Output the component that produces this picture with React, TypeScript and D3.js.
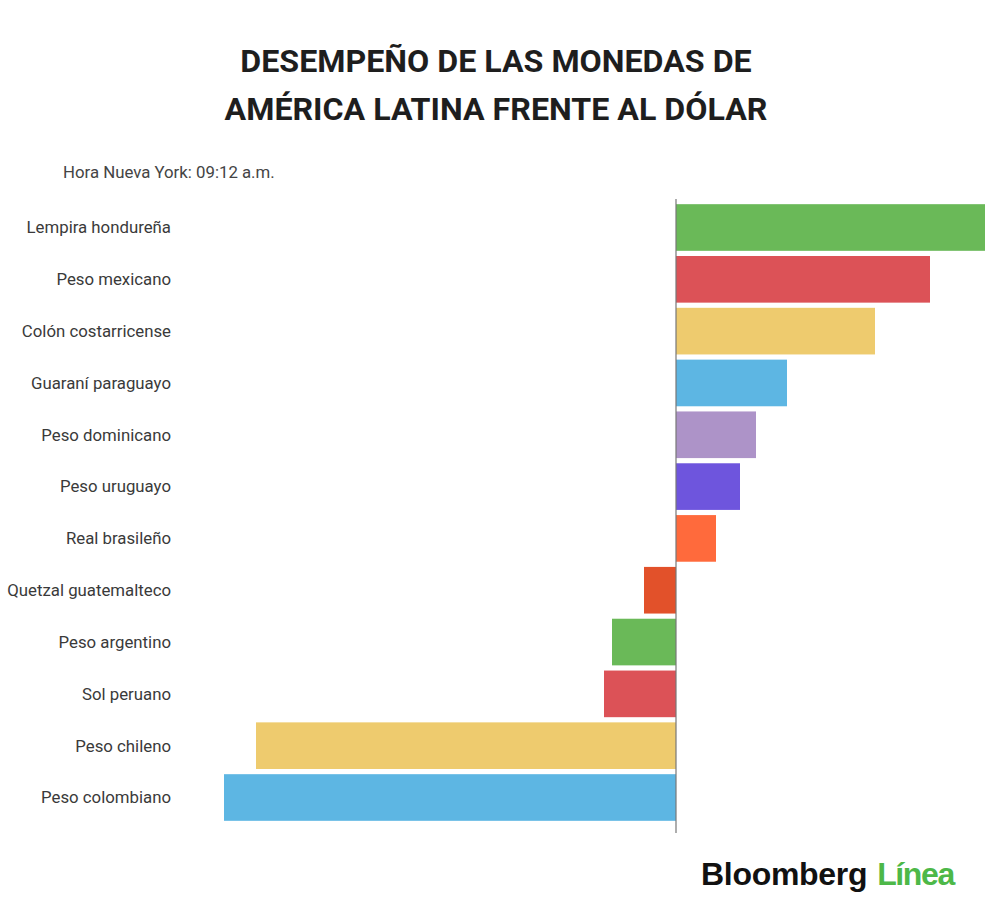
import { useEffect, useRef } from 'react'
import * as d3 from 'd3'

// Currency performance vs USD (% change)
const CURRENCIES = [
  'Lempira hondureña',
  'Peso mexicano',
  'Colón costarricense',
  'Guaraní paraguayo',
  'Peso dominicano',
  'Peso uruguayo',
  'Real brasileño',
  'Quetzal guatemalteco',
  'Peso argentino',
  'Sol peruano',
  'Peso chileno',
  'Peso colombiano',
]
const CHANGES = [0.618, 0.508, 0.398, 0.222, 0.16, 0.128, 0.08, -0.064, -0.128, -0.144, -0.84, -0.904]
const COLORS = [
  '#6AB958', '#DC5257', '#EECB6E', '#5DB6E3', '#AD93C8', '#6E55DD',
  '#FF6A3C', '#E2512A', '#6AB958', '#DC5257', '#EECB6E', '#5DB6E3',
]
const TITLE_LINES = ['DESEMPEÑO DE LAS MONEDAS DE', 'AMÉRICA LATINA FRENTE AL DÓLAR']
const SUBTITLE = 'Hora Nueva York: 09:12 a.m.'

const W = 1000
const H = 917
const FONT = 'Roboto, "Noto Sans", sans-serif'

export default function App() {
  const svgRef = useRef<SVGSVGElement>(null)

  useEffect(() => {
    const svgEl = svgRef.current
    if (!svgEl) return
    const svg = d3.select(svgEl)
    svg.selectAll('*').remove()

    svg.append('rect').attr('width', W).attr('height', H).attr('fill', '#fff')

    // Title
    svg.selectAll('.title')
      .data(TITLE_LINES)
      .join('text')
      .attr('class', 'title')
      .attr('x', 496)
      .attr('y', (_, i) => 72 + i * 48)
      .attr('text-anchor', 'middle')
      .attr('font-family', FONT).attr('font-weight', 700).attr('font-size', 32.2)
      .attr('fill', '#1e1e1e')
      .text(d => d)

    svg.append('text')
      .attr('x', 63).attr('y', 178)
      .attr('font-family', FONT).attr('font-size', 16.8).attr('fill', '#444')
      .text(SUBTITLE)

    const x = d3.scaleLinear()
      .domain([d3.min(CHANGES) as number, d3.max(CHANGES) as number])
      .range([224, 985])

    const y = d3.scaleBand<string>()
      .domain(CURRENCIES)
      .range([199, 826])
      .paddingInner(0.1)
      .paddingOuter(0.1)

    // Bars
    svg.selectAll('.bar')
      .data(CURRENCIES)
      .join('rect')
      .attr('class', 'bar')
      .attr('x', (_, i) => Math.min(x(0), x(CHANGES[i])))
      .attr('y', d => y(d) as number)
      .attr('width', (_, i) => Math.abs(x(CHANGES[i]) - x(0)))
      .attr('height', y.bandwidth())
      .attr('fill', (_, i) => COLORS[i])

    // Category labels
    svg.selectAll('.label')
      .data(CURRENCIES)
      .join('text')
      .attr('class', 'label')
      .attr('x', 171)
      .attr('y', d => (y(d) as number) + y.bandwidth() / 2)
      .attr('dy', '0.35em')
      .attr('text-anchor', 'end')
      .attr('font-family', FONT).attr('font-size', 16.8).attr('fill', '#3a3a3a')
      .text(d => d)

    // Zero line
    const [r0, r1] = y.range()
    svg.append('line')
      .attr('x1', x(0)).attr('x2', x(0))
      .attr('y1', r0).attr('y2', r1 + 7)
      .attr('stroke', '#777').attr('stroke-width', 1.2)

    // Logo
    const logo = svg.append('text')
      .attr('x', 701).attr('y', 885)
      .attr('font-family', '"Liberation Sans", Arial, sans-serif').attr('font-weight', 700).attr('font-size', 32)
    logo.append('tspan').attr('fill', '#111').attr('letter-spacing', -0.3).text('Bloomberg')
    logo.append('tspan').attr('fill', '#4DB848').attr('dx', 10).attr('letter-spacing', -1.4).text('Línea')
  }, [])

  return (
    <div style={{ position: 'absolute', left: 0, top: 0 }}>
      <svg ref={svgRef} width={W} height={H} style={{ display: 'block' }} />
    </div>
  )
}
